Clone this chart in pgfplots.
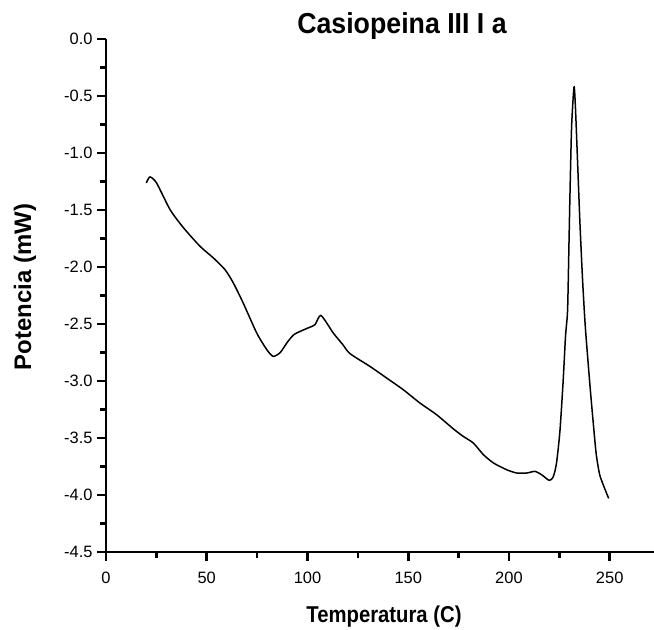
\documentclass[border=0pt]{standalone}
\usepackage{fontspec}
\setmainfont{Liberation Sans}
\usepackage{pgfplots}
\pgfplotsset{compat=1.18}
\begin{document}
\begin{tikzpicture}[x=1bp,y=1bp]
\useasboundingbox (0,0) rectangle (654,630);
\begin{axis}[
  at={(106bp,78bp)}, anchor=south west,
  scale only axis, width=548bp, height=513bp,
  xmin=0, xmax=272, ymin=-4.5, ymax=0,
  axis lines*=left,
  axis line style={line width=2.6bp, black},
  xtick={0,50,100,150,200,250},
  xticklabels={0,50,100,150,200,250},
  minor xtick={25,75,125,175,225},
  ytick={-4.5,-4,-3.5,-3,-2.5,-2,-1.5,-1,-0.5,0},
  yticklabels={-4.5,-4.0,-3.5,-3.0,-2.5,-2.0,-1.5,-1.0,-0.5,0.0},
  minor ytick={-4.25,-3.75,-3.25,-2.75,-2.25,-1.75,-1.25,-0.75,-0.25},
  tick align=outside,
  major tick length=9bp, minor tick length=6bp,
  every tick/.style={line width=2.6bp, black},
  tick label style={font=\fontsize{16.5}{16.5}\selectfont, black},
  xticklabel style={yshift=-8bp},
  yticklabel style={xshift=-1bp},
  clip=false,
]
\addplot[black, line width=1.5bp, smooth, tension=0.4] coordinates {
(20.0,-1.263) (21.8,-1.21) (25.1,-1.263) (31.8,-1.497) (38.4,-1.655)
(46.7,-1.819) (53.3,-1.921) (59.1,-2.024) (63.2,-2.14) (68.1,-2.316)
(74.8,-2.579) (79.8,-2.725) (83.0,-2.784) (86.5,-2.75) (90.0,-2.66) (93.5,-2.59)
(99.6,-2.54) (103.7,-2.506) (106.7,-2.425) (112.8,-2.579) (117.5,-2.68)
(121.1,-2.76) (131.0,-2.872) (139.3,-2.974) (147.5,-3.076) (155.8,-3.193)
(164.1,-3.296) (172.4,-3.42) (177.3,-3.486) (182.3,-3.544) (187.3,-3.646)
(192.3,-3.719) (198.8,-3.778) (203.8,-3.807) (208.8,-3.807) (212.9,-3.793)
(216.2,-3.822) (220.0,-3.872) (222.0,-3.84) (223.6,-3.72) (225.3,-3.44)
(226.9,-3.0) (228.1,-2.6) (229.1,-2.38) (229.8,-1.789) (230.3,-1.351)
(231.1,-0.767) (232.3,-0.421) (233.0,-0.6) (234.0,-1.05) (235.2,-1.6)
(236.5,-2.1) (237.8,-2.5) (239.2,-2.82) (240.5,-3.1) (241.8,-3.36)
(243.3,-3.64) (245.0,-3.82) (247.0,-3.92) (249.5,-4.03)
};
\end{axis}
\node[anchor=base] at (402,596) {\scalebox{0.925}[1]{\fontsize{29}{29}\selectfont\bfseries Casiopeina III I a}};
\node[anchor=base] at (384,7) {\scalebox{0.885}[1]{\fontsize{23}{23}\selectfont\bfseries Temperatura (C)}};
\node[rotate=90, anchor=center] at (25,343) {\fontsize{24}{24}\selectfont\bfseries Potencia (mW)};
\end{tikzpicture}
\end{document}
